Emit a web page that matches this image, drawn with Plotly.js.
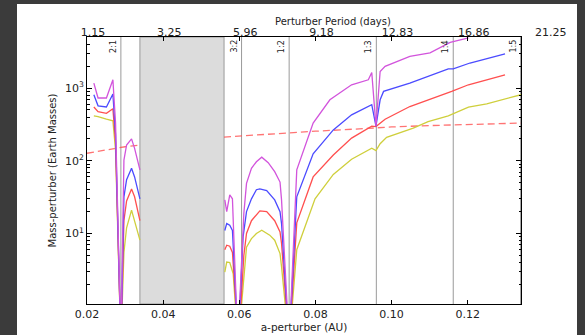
<!DOCTYPE html>
<html>
<head>
<meta charset="utf-8">
<script src="https://cdn.plot.ly/plotly-3.0.1.min.js"></script>
<style>
  html, body { margin:0; padding:0; width:585px; height:335px; background:#3b3b3b; overflow:hidden; }
  #chart { position:absolute; left:17px; top:4px; width:560px; height:331px; background:#fff; }
</style>
</head>
<body>
<div id="chart"></div>
<script>
// ---- data ----
const xTicks = [0.02, 0.04, 0.06, 0.08, 0.10, 0.12];
const yTicks = [10, 100, 1000];
const yTickLabels = ['10<sup>1</sup>', '10<sup>2</sup>', '10<sup>3</sup>'];
const periodTickA = [0.02, 0.04, 0.06, 0.08, 0.10, 0.12, 0.14];
const periodLabels = ['1.15', '3.25', '5.96', '9.18', '12.83', '16.86', '21.25'];

const resonanceA = [0.0289, 0.0606, 0.0731, 0.0960, 0.1162, 0.1339];
const resonanceLabels = ['2:1', '3:2', '1:2', '1:3', '1:4', '1:5'];

const excludedRegion = [0.0339, 0.0560];

const magentaA = [0.0218,0.0229,0.0251,0.0268,0.0275,0.0289,0.0297,0.0304,0.0317,0.0325,0.0339,null,
  0.0562,0.0567,0.0575,0.0582,0.0596,0.0612,0.0619,0.0632,0.0645,0.0659,0.0676,0.0693,0.0707,0.0711,0.0731,
  0.0751,0.0794,0.0838,0.0895,0.0939,0.0948,0.0959,0.0970,0.0983,0.1048,0.1101,0.1154,0.1202];
const magentaM = [1170,730,730,1300,330,0.3,102,165,200,148,75,null,
  29,20,34,30,0.3,19,49,79,97,112,94,71,51,29,0.3,
  75,330,690,1110,1300,1640,300,1690,1990,2730,3040,4250,4900];

const blueA = [0.0218,0.0229,0.0251,0.0268,0.0275,0.0289,0.0297,0.0304,0.0317,0.0325,0.0339,null,
  0.0562,0.0567,0.0575,0.0582,0.0597,0.0610,0.0619,0.0632,0.0645,0.0654,0.0672,0.0693,0.0707,0.0711,0.0731,
  0.0751,0.0794,0.0847,0.0895,0.0948,0.0959,0.0970,0.0979,0.1048,0.1149,0.1162,0.1206,0.1298];
const blueM = [810,570,550,830,230,0.3,32,55,79,60,30,null,
  11,13.7,13,11,0.3,9,20,30,40,41,39,29,20,13.7,0.3,
  32,125,266,428,590,300,690,900,1170,1830,1830,2210,2950];

const redA = [0.0218,0.0229,0.0251,0.0268,0.0275,0.0289,0.0297,0.0304,0.0317,0.0325,0.0339,null,
  0.0562,0.0567,0.0575,0.0582,0.0598,0.0612,0.0619,0.0632,0.0654,0.0672,0.0693,0.0707,0.0711,0.0731,
  0.0751,0.0794,0.0847,0.0895,0.0948,0.0959,0.0983,0.1048,0.1158,0.1202,0.1298];
const redM = [550,475,450,520,180,0.3,15,28,41,32,15,null,
  6,6.9,6.7,5.5,0.3,5,10,15,20.5,20,15,10.5,7.3,0.3,
  14,60,120,205,300,295,373,557,900,1110,1520];

const yellowA = [0.0218,0.0229,0.0251,0.0268,0.0275,0.0289,0.0297,0.0304,0.0317,0.0325,0.0339,null,
  0.0562,0.0567,0.0575,0.0584,0.0597,0.0619,0.0632,0.0645,0.0659,0.0680,0.0693,0.0707,0.0711,0.0731,
  0.0751,0.0799,0.0847,0.0895,0.0948,0.0959,0.0970,0.0987,0.1057,0.1096,0.1149,0.1202,0.1250,0.1340];
const yellowM = [415,406,373,355,140,0.3,5.5,12,21,15,8.1,null,
  2.95,4.05,4.0,2.8,0.3,6.5,8.5,10,11.1,9.5,8.1,5.3,3.5,0.3,
  6,30,65,105,149,138,172,210,281,346,415,547,607,809];

const hillA = [0.02,0.025,0.03,0.0339,null,0.056,0.07,0.08,0.09,0.10,0.11,0.12,0.134];
const hillM = [127,142,156,165,null,212,238,255,272,292,305,318,330];

// ---- chart ----
const xRange = [0.02, 0.134];
const line = (x, y, color, extra) => Object.assign({
  x: x, y: y, type: 'scatter', mode: 'lines', connectgaps: false,
  line: {color: color, width: 1.3}, hoverinfo: 'skip', showlegend: false
}, extra || {});

const traces = [
  line(hillA, hillM, 'rgba(255,80,80,0.8)', {line: {color: 'rgba(255,80,80,0.8)', width: 1.3, dash: '7px,4px'}}),
  line(yellowA, yellowM, '#cfcf3c'),
  line(redA, redM, '#ff4f4f'),
  line(blueA, blueM, '#4b4bff'),
  line(magentaA, magentaM, '#d254dc'),
  {x: xRange, y: [null, null], xaxis: 'x2', type: 'scatter', mode: 'lines', showlegend: false, hoverinfo: 'skip'}
];

const shapes = [{
  type: 'rect', xref: 'x', yref: 'paper', x0: excludedRegion[0], x1: excludedRegion[1], y0: 0, y1: 1,
  fillcolor: '#dcdcdc', line: {color: '#9a9a9a', width: 1}, layer: 'below'
}];
resonanceA.forEach(a => shapes.push({
  type: 'line', xref: 'x', yref: 'paper', x0: a, x1: a, y0: 0, y1: 1,
  line: {color: '#9a9a9a', width: 1}, layer: 'below'
}));

const annotations = resonanceLabels.map((t, i) => ({
  text: t, xref: 'x', yref: 'paper', x: resonanceA[i], y: 1, xanchor: 'right', yanchor: 'top',
  textangle: -90, showarrow: false, xshift: -1, yshift: -1, font: {size: 8, color: '#222'}
}));

// top-axis label beyond the plotted range
const lastIdx = periodTickA.length - 1;
annotations.push({
  text: periodLabels[lastIdx], xref: 'paper', yref: 'paper',
  x: (periodTickA[lastIdx] - xRange[0]) / (xRange[1] - xRange[0]), y: 1,
  xanchor: 'center', yanchor: 'bottom', xshift: 7, yshift: -4, showarrow: false,
  font: {size: 11, color: '#222'}
});
annotations.push({
  text: 'Perturber Period (days)', xref: 'paper', yref: 'paper', x: 0.567, y: 1.058,
  xanchor: 'center', yanchor: 'middle', showarrow: false, font: {size: 10, color: '#222'}
});

const layout = {
  width: 560, height: 331,
  margin: {l: 70, r: 56, t: 33, b: 31},
  paper_bgcolor: '#ffffff', plot_bgcolor: '#ffffff',
  font: {family: 'DejaVu Sans, sans-serif', size: 11, color: '#222'},
  showlegend: false,
  xaxis: {
    range: xRange, tickvals: xTicks, tickformat: '.2f',
    ticks: 'inside', ticklen: 4, tickcolor: '#000',
    showline: true, linecolor: '#000', linewidth: 1, showgrid: false, zeroline: false,
    title: {text: 'a-perturber (AU)', font: {size: 10.5}, standoff: 0},
    automargin: false
  },
  xaxis2: {
    overlaying: 'x', side: 'top', range: xRange,
    tickvals: periodTickA.slice(0, lastIdx), ticktext: periodLabels.slice(0, lastIdx),
    ticks: 'inside', ticklen: 4, tickcolor: '#000', ticklabelshift: 6, ticklabelstandoff: -4,
    showline: true, linecolor: '#000', linewidth: 1, showgrid: false, zeroline: false,
    automargin: false
  },
  yaxis: {
    type: 'log', range: [0.031, 3.702], tickvals: yTicks, ticktext: yTickLabels,
    ticks: 'inside', ticklen: 5, tickcolor: '#000', mirror: 'ticks',
    minor: {ticks: 'inside', ticklen: 2.5, tickcolor: '#000', showgrid: false, dtick: 'D1'},
    showline: true, linecolor: '#000', linewidth: 1, showgrid: false, zeroline: false,
    title: {text: 'Mass-perturber (Earth Masses)', font: {size: 10}, standoff: 6},
    automargin: false
  },
  shapes: shapes,
  annotations: annotations
};

Plotly.newPlot('chart', traces, layout, {staticPlot: true, displayModeBar: false});
</script>
</body>
</html>
